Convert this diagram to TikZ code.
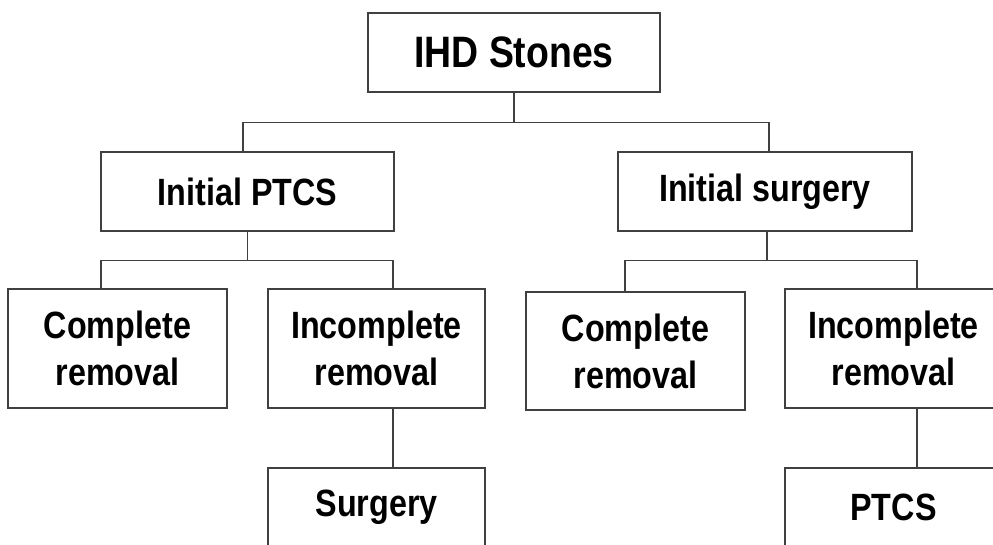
\documentclass[tikz,border=0pt]{standalone}
\usepackage{fontspec}
\newfontfamily\chartfont[FakeStretch=0.85]{Liberation Sans Bold}
\tikzset{
    box/.style={draw=black!75,line width=1.3pt,minimum width=217pt,minimum height=119pt,inner sep=0pt,align=center,font=\chartfont\fontsize{38}{47}\selectfont},
    headbox/.style={box,minimum height=79pt},
    link/.style={draw=black!75,line width=1.3pt}
}
\begin{document}
\begin{tikzpicture}[x=1pt,y=-1pt]
    \clip (0,0) rectangle (993,545);
    \fill[white] (0,0) rectangle (993,545);
    % top
    \node[headbox,minimum width=292pt,font=\chartfont\fontsize{44}{54}\selectfont] (stones) at (514,52.5) {IHD Stones};
    \node[headbox,minimum width=293pt] (ptcs) at (247.5,191.5) {Initial PTCS};
    \node[headbox,minimum width=294pt] (surg) at (765,191.5) {Initial surgery};
    % second level
    \node[box,minimum width=219pt] (cl) at (117.5,348.5) {Complete\\removal};
    \node[box] (il) at (376.5,348.5) {Incomplete\\removal};
    \node[box,minimum width=219pt,minimum height=118pt] (cr) at (635.5,351) {Complete\\removal};
    \node[box] (ir) at (893.5,348.5) {Incomplete\\removal};
    % bottom
    \node[headbox] (surgery) at (376.5,507.5) {Surgery};
    \node[headbox] (ptcsb) at (893.5,507.5) {PTCS};
    % lines
    \draw[link] (stones.south) -- ++(0,30) coordinate (topjoin);
    \draw[link] ([xshift=-4.5pt]ptcs.north) |- (topjoin) -| ([xshift=4pt]surg.north);
    \draw[link] (ptcs.south) -- ++(0,29) coordinate (ptcsjoin);
    \draw[link] ([xshift=-16.5pt]cl.north) |- (ptcsjoin) -| ([xshift=16.5pt]il.north);
    \draw[link] ([xshift=2pt]surg.south) -- ++(0,29) coordinate (surgjoin);
    \draw[link] ([xshift=-10.5pt]cr.north) |- (surgjoin) -| ([xshift=23.5pt]ir.north);
    \draw[link] ([xshift=16.5pt]il.south) -- ([xshift=16.5pt]surgery.north);
    \draw[link] ([xshift=23.5pt]ir.south) -- ([xshift=23.5pt]ptcsb.north);
\end{tikzpicture}
\end{document}
